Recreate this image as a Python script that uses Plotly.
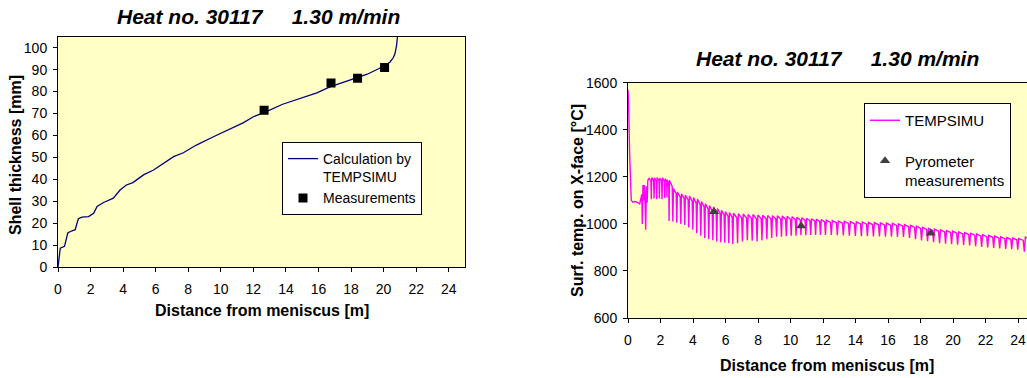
import plotly.graph_objects as go

# ---------------- data: left chart (shell thickness) ----------------
shell_x = [0, 0.05, 0.14, 0.4, 0.5, 0.6, 0.76, 1.06, 1.15, 1.25, 1.47, 1.88, 2.19, 2.4, 2.8,
           3.4, 3.8, 4.2, 4.6, 5.25, 5.87, 6.5, 7.1, 7.7, 8.5, 9.55, 10.8, 11.4, 12.0, 12.8,
           13.8, 14.9, 15.9, 16.7, 17.9, 19.0, 20.0, 20.4, 20.6, 20.7, 20.8, 20.85]
shell_y = [0, 4, 8.6, 9.4, 13, 15.5, 16.2, 17, 19.5, 22, 22.7, 23, 24.5, 27.6, 29.4,
           31.4, 35, 37.4, 38.5, 42, 44.2, 47.3, 50.3, 52.1, 55.6, 59.4, 63.9, 65.8, 68.5, 70.8,
           74.2, 76.8, 79.4, 82.1, 85.2, 87.9, 91.5, 93.5, 95.5, 97.3, 101, 105]
meas_x = [12.66, 16.77, 18.4, 20.06]
meas_y = [71.5, 83.9, 86.0, 91.0]

# ---------------- data: right chart (surface temperature) ----------------
early_x = [0, 0.04, 0.1, 0.15, 0.2, 0.3, 0.45, 0.6, 0.72, 0.8, 0.85, 0.88, 0.92, 0.96,
           1.0, 1.04, 1.09, 1.13, 1.18, 1.22]
early_t = [1570, 1500, 1300, 1150, 1100, 1092, 1095, 1090, 1085, 1110, 1125, 1000, 1165, 1100,
           1165, 1120, 975, 1160, 1090, 1185]
# reheating cycles: position of each peak, peak value and following dip value
cyc_x = [1.30, 1.46, 1.63, 1.79, 1.96, 2.12, 2.29, 2.42,
         2.55, 2.80, 3.04, 3.29, 3.53, 3.78, 4.03, 4.27, 4.52, 4.76, 5.01, 5.26, 5.50, 5.75,
         5.99, 6.24, 6.49,
         6.79, 7.09, 7.39, 7.69, 7.99, 8.29, 8.59, 8.89, 9.19, 9.49, 9.79, 10.09, 10.39, 10.69,
         10.99, 11.29, 11.59, 11.89,
         12.20, 12.57, 12.94, 13.31, 13.68, 14.05, 14.42, 14.79, 15.16, 15.53, 15.90, 16.27,
         16.64, 17.01, 17.38, 17.75, 18.12, 18.49, 18.86, 19.23, 19.60, 19.97, 20.34, 20.71,
         21.08, 21.45, 21.82, 22.19, 22.56, 22.93, 23.30, 23.67, 24.04, 24.45]
cyc_peak = [1195, 1197, 1196, 1197, 1195, 1196, 1192, 1188,
            1185, 1150, 1135, 1128, 1122, 1118, 1112, 1105, 1095, 1085, 1078, 1072, 1065, 1058,
            1052, 1048, 1045,
            1043, 1042, 1040, 1040, 1038, 1037, 1036, 1035, 1034, 1033, 1032, 1030, 1028, 1026,
            1024, 1022, 1020, 1018,
            1016, 1014, 1012, 1011, 1010, 1009, 1008, 1006, 1005, 1004, 1003, 1002,
            1000, 997, 994, 990, 985, 981, 978, 975, 972, 969, 966, 963,
            960, 957, 954, 951, 948, 945, 942, 940, 938, 943]
cyc_dip = [1105, 1108, 1105, 1108, 1105, 1110, 1112, 1012,
           1010, 1005, 1000, 995, 985, 975, 960, 950, 940, 935, 930, 925, 922, 920,
           918, 915, 918,
           925, 930, 928, 925, 930, 935, 940, 945, 945, 948, 950, 950, 952, 952,
           953, 953, 953, 953,
           953, 952, 951, 950, 949, 948, 948, 947, 947, 946, 946, 945,
           944, 940, 935, 930, 926, 922, 918, 916, 914, 912, 910, 908,
           905, 902, 900, 898, 896, 894, 892, 890, 882, 900]
pyro_x = [5.29, 10.65, 18.63]
pyro_t = [1052, 991, 960]

# build the temperature polyline from the read peaks / dips
temp_x = list(early_x)
temp_t = list(early_t)
for i, (xp, pv, dv) in enumerate(zip(cyc_x, cyc_peak, cyc_dip)):
    s = (cyc_x[i + 1] - xp) if i + 1 < len(cyc_x) else (xp - cyc_x[i - 1])
    temp_x += [xp, xp + 0.68 * s, xp + 0.84 * s]
    temp_t += [pv, pv - 0.15 * (pv - dv), dv]

FONT = "Liberation Sans, Arial, sans-serif"
W, H = 1027, 378
BG = "#FFFFC6"

fig = go.Figure()
fig.add_trace(go.Scatter(x=shell_x, y=shell_y, mode="lines", name="Calculation by<br>TEMPSIMU",
                         line=dict(color="#000080", width=1.3), xaxis="x", yaxis="y",
                         legend="legend"))
fig.add_trace(go.Scatter(x=meas_x, y=meas_y, mode="markers", name="Measurements",
                         marker=dict(symbol="square", size=9, color="black"),
                         xaxis="x", yaxis="y", legend="legend"))
fig.add_trace(go.Scatter(x=temp_x, y=temp_t, mode="lines", name="TEMPSIMU",
                         line=dict(color="#FF00FF", width=1.4), xaxis="x2", yaxis="y2",
                         legend="legend2", legendgroup="a"))
fig.add_trace(go.Scatter(x=pyro_x, y=pyro_t, mode="markers", name="Pyrometer<br>measurements",
                         marker=dict(symbol="triangle-up", size=9, color="#404040"),
                         xaxis="x2", yaxis="y2", legend="legend2", legendgroup="b"))

def px(v):
    return v / W

def py(v):
    return 1 - v / H

axis_common = dict(showgrid=False, zeroline=False, showline=True, linecolor="black", linewidth=1,
                   ticks="outside", ticklen=4, tickcolor="black", automargin=False,
                   tickfont=dict(family=FONT, size=14, color="black"))
xax = dict(ticklabelstandoff=5, **axis_common)
yax = dict(ticklabelstandoff=3, **axis_common)

fig.update_layout(
    width=W, height=H, margin=dict(l=0, r=0, t=0, b=0, pad=0, autoexpand=False),
    paper_bgcolor="white", plot_bgcolor=BG,
    font=dict(family=FONT, color="black"),
    xaxis=dict(domain=[px(58), px(465)], range=[0, 25], tickvals=list(range(0, 25, 2)),
               mirror=True, anchor="y", **xax),
    yaxis=dict(domain=[py(267), py(36.7)], range=[0, 105], tickvals=list(range(0, 101, 10)),
               mirror=True, anchor="x", **yax),
    xaxis2=dict(domain=[px(628), 1.0], range=[0, 24.55], tickvals=list(range(0, 25, 2)),
                mirror=True, anchor="y2", **xax),
    yaxis2=dict(domain=[py(318), py(82.7)], range=[600, 1600], tickvals=list(range(600, 1601, 200)),
                anchor="x2", **yax),
    legend=dict(x=px(282), y=py(142), xanchor="left", yanchor="top", bgcolor="white",
                bordercolor="black", borderwidth=1, font=dict(family=FONT, size=14, color="black"),
                valign="top", tracegroupgap=0, itemwidth=30),
    legend2=dict(x=px(864), y=py(103), xanchor="left", yanchor="top", bgcolor="white",
                 bordercolor="black", borderwidth=1, font=dict(family=FONT, size=15, color="black"),
                 valign="top", tracegroupgap=18, itemwidth=30),
    showlegend=True,
)

ann = []
title = "<b><i>Heat no. 30117&nbsp;&nbsp;&nbsp;&nbsp;&nbsp;1.30 m/min</i></b>"
common = dict(xref="paper", yref="paper", showarrow=False, xanchor="center", yanchor="middle")
ann.append(dict(text=title, x=px(258), y=py(16), font=dict(family=FONT, size=21, color="black"),
                **common))
ann.append(dict(text=title, x=px(837), y=py(59), font=dict(family=FONT, size=21, color="black"),
                **common))
ann.append(dict(text="<b>Distance from meniscus [m]</b>", x=px(262), y=py(310),
                font=dict(family=FONT, size=16), **common))
ann.append(dict(text="<b>Distance from meniscus [m]</b>", x=px(827), y=py(365),
                font=dict(family=FONT, size=16), **common))
ann.append(dict(text="<b>Shell thickness [mm]</b>", x=px(16), y=py(155), textangle=-90,
                font=dict(family=FONT, size=16), **common))
ann.append(dict(text="<b>Surf. temp. on X-face [°C]</b>", x=px(577), y=py(201), textangle=-90,
                font=dict(family=FONT, size=16), **common))
fig.update_layout(annotations=ann)

fig.write_html("out.html")
